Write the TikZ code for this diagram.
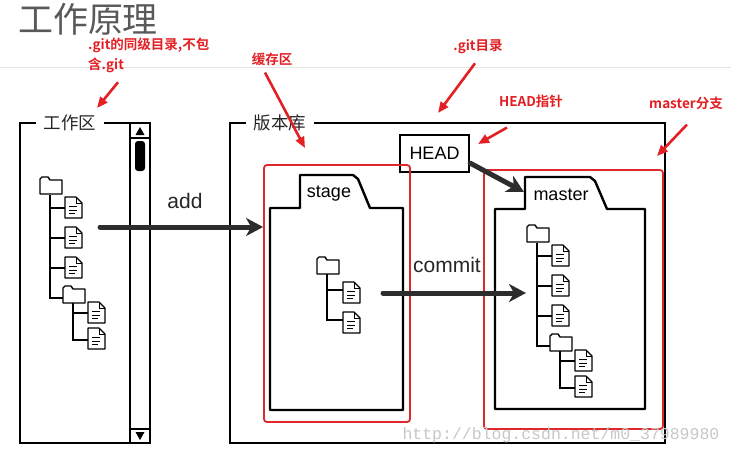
\documentclass[tikz,border=0pt]{standalone}
\usepackage{fontspec}
\setmainfont{Liberation Sans}
\newfontfamily\cjk{Noto Sans CJK SC}
\newfontfamily\cjkbold{Noto Sans CJK SC Bold}
\newfontfamily\wmfont{Liberation Mono}
\usepackage{tikz}
\usetikzlibrary{arrows.meta}
\definecolor{notered}{RGB}{226,32,36}
\definecolor{boxred}{RGB}{222,40,44}
\definecolor{arrowgray}{RGB}{45,45,45}
\tikzset{>=stealth}
\tikzset{%
    panelline/.style={draw,line width=2.4pt},
    panellabel/.style={fill=white,inner xsep=8pt,text=black!85,font=\cjk\fontsize{17.5}{17.5}\selectfont},
    redbox/.style={draw=boxred,line width=1.8pt,rounded corners=3pt},
    folderline/.style={draw,line width=2.4pt,line join=round},
    tablabel/.style={font=\fontsize{18}{18}\selectfont},
    treeline/.style={line width=2.6pt},
    flowarrow/.style={draw=arrowgray,line width=5pt,line cap=round,-{Stealth[length=17pt,width=18pt,inset=5pt]}},
    flowlabel/.style={text=black!85,font=\fontsize{21}{21}\selectfont},
    notetext/.style={text=notered,inner sep=1pt,font=\cjkbold\fontsize{13.5}{20}\selectfont},
    notearrow/.style={draw=notered,line width=2.6pt,-{Triangle[length=11pt,width=9pt]}},
    foldericon/.pic={\draw[line width=1.4pt,line join=round,fill=white] (0,17) -- (0,2) -- (2,0) -- (8,0) -- (10,3) -- (22,3) -- (22,17) -- cycle;},
    docicon/.pic={\draw[line width=1.2pt,line join=round,fill=white] (0,0) -- (11,0) -- (17,6) -- (17,21) -- (0,21) -- cycle;
        \draw[line width=1pt] (11,0) -- (11,6) -- (17,6) (4,9.5) -- (12,9.5) (4,13) -- (12,13) (4,16.5) -- (10,16.5);},
    bigtree/.pic={\pic at (0,0) {foldericon};
        \draw[treeline] (10,18) -- (10,121) -- (23,121) (10,31) -- (25,31) (10,61) -- (25,61) (10,91) -- (25,91);
        \foreach \y in {20,50,80} \pic at (25,\y) {docicon};
        \pic at (23,109) {foldericon};
        \draw[treeline] (33,126) -- (33,163) -- (48,163) (33,136) -- (48,136);
        \foreach \y in {125,151} \pic at (48,\y) {docicon};},
    smalltree/.pic={\pic at (0,0) {foldericon};
        \draw[treeline] (10,17) -- (10,63) -- (26,63) (10,33) -- (26,33);
        \foreach \y in {25,55} \pic at (26,\y) {docicon};}
}
\begin{document}
\begin{tikzpicture}[x=1pt,y=-1pt]
\useasboundingbox (0,0) rectangle (731,455);
\node[inner sep=0pt,text=black!65,font=\cjk\fontsize{35}{35}\selectfont] (title) at (88,19) {工作原理};
\draw[black!10,line width=0.8pt] (0,67) -- (731,67);
% working directory with scroll bar
\draw[panelline] (20,123) rectangle (150,443);
\draw[panelline] (130,123) -- (130,443) (130,138) -- (150,138) (130,429) -- (150,429);
\fill (140,127) -- (144.5,135) -- (135.5,135) -- cycle;
\fill (140,440) -- (144.5,432) -- (135.5,432) -- cycle;
\fill[rounded corners=3pt] (135,141) rectangle (145,171);
\node[panellabel] (worklabel) at (70,123) {工作区};
\pic at (40,177) {bigtree};
% repository
\draw[panelline] (230,123) rectangle (665,443);
\node[panellabel] (repolabel) at (280,123) {版本库};
\node[draw,line width=2.2pt,minimum width=69pt,minimum height=37pt,font=\fontsize{18}{18}\selectfont] (head) at (434.5,153.5) {HEAD};
\node[redbox,minimum width=146pt,minimum height=257pt] (stagebox) at (337,293.5) {};
\draw[folderline] (270,410) -- (270,208) -- (300,208) -- (300,175) -- (353,175) -- (358,179) -- (370,208) -- (403,208) -- (403,410) -- cycle;
\node[tablabel] (stage) at (329,194) {stage};
\pic at (317,257) {smalltree};
\node[redbox,minimum width=179pt,minimum height=259pt] (masterbox) at (573.5,299.5) {};
\draw[folderline] (495,409) -- (495,209) -- (525,209) -- (525,177) -- (590,177) -- (595,181) -- (607,209) -- (645,209) -- (645,409) -- cycle;
\node[tablabel] (master) at (561,195) {master};
\pic at (527,225) {bigtree};
% add, commit and HEAD arrows
\coordinate (addfrom) at (100,227);
\draw[flowarrow] (addfrom) -- (addfrom -| stagebox.west);
\node[flowlabel] (addlabel) at (185,201) {add};
\coordinate (commitfrom) at (383,293);
\coordinate (committo) at (526,293);
\draw[flowarrow] (commitfrom) -- (committo);
\node[flowlabel] (commitlabel) at (447,265) {commit};
\coordinate (mastertab) at (524,192);
\draw[flowarrow] ([yshift=10pt]head.south east) -- (mastertab);
% red notes
\node[notetext,align=left,anchor=north west] (worknote) at (87,37) {.git的同级目录,不包\\含.git};
\coordinate (worktip) at (97,108);
\draw[notearrow] ([xshift=31pt,yshift=-8pt]worknote.south west) -- (worktip);
\node[notetext] (cachenote) at (272,59) {缓存区};
\coordinate (cachetip) at (305,148);
\draw[notearrow] ([xshift=-7pt,yshift=-6pt]cachenote.south) -- (cachetip);
\node[notetext] (gitnote) at (478,47) {.git目录};
\coordinate (gittip) at (438,113);
\draw[notearrow] ([xshift=-3pt,yshift=-8pt]gitnote.south) -- (gittip);
\node[notetext] (headnote) at (531,101) {HEAD指针};
\coordinate (headtip) at (478,144);
\draw[notearrow] ([xshift=-24pt,yshift=-19pt]headnote.south) -- (headtip);
\node[notetext] (masternote) at (686,103) {master分支};
\coordinate (mastertip) at (657,156);
\draw[notearrow] ([xshift=1pt,yshift=-14pt]masternote.south) -- (mastertip);
\node[text=black!22,font=\wmfont\fontsize{16.5}{16.5}\selectfont,anchor=west] (watermark) at (399,435) {http://blog.csdn.net/m0\_37989980};
\end{tikzpicture}
\end{document}
